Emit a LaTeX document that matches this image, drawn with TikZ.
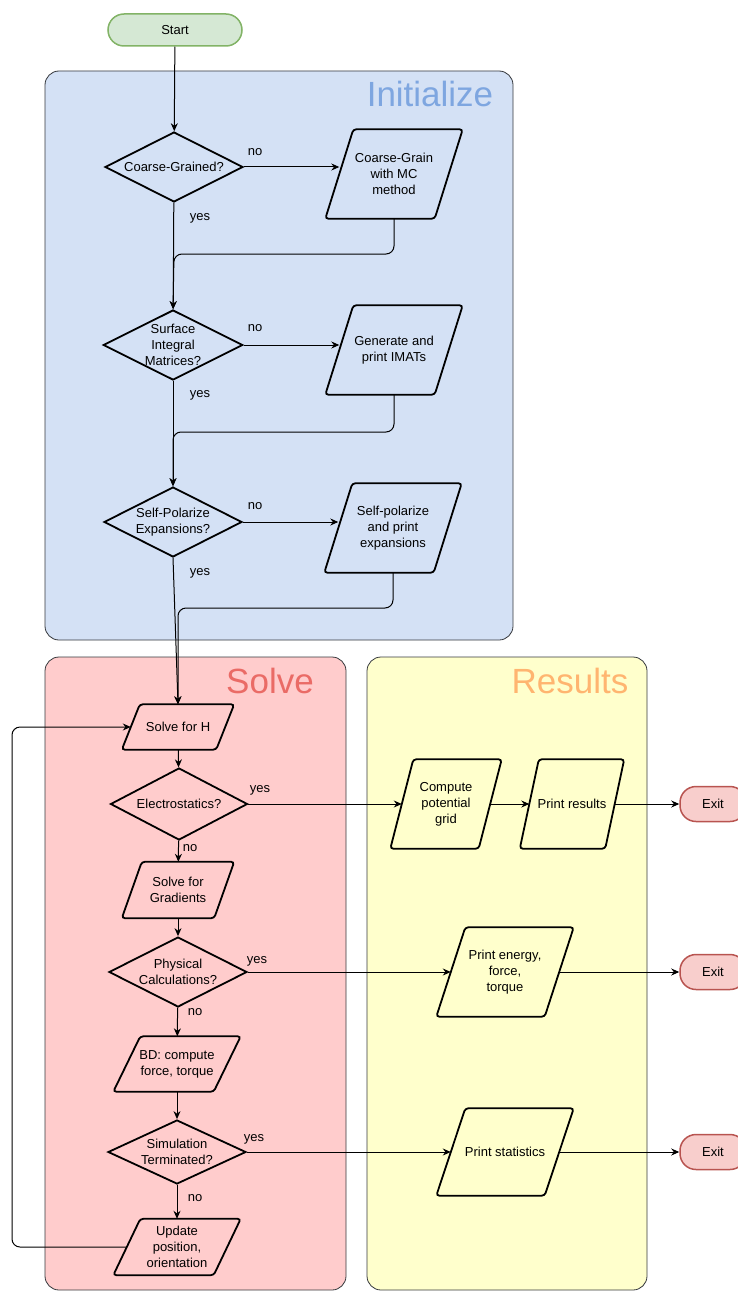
\documentclass[tikz,border=0pt]{standalone}
\usepackage{fontspec}
\setmainfont{Liberation Sans}
\usepackage{xcolor}
\usetikzlibrary{arrows.meta,positioning,calc,shapes.geometric}
\definecolor{initfill}{HTML}{D4E1F5}
\definecolor{inittext}{HTML}{7EA6E0}
\definecolor{solvefill}{HTML}{FFCCCC}
\definecolor{solvetext}{HTML}{EA6B66}
\definecolor{resfill}{HTML}{FFFFCC}
\definecolor{restext}{HTML}{FFB570}
\definecolor{startfill}{HTML}{D5E8D4}
\definecolor{startline}{HTML}{82B366}
\definecolor{exitfill}{HTML}{F8CECC}
\definecolor{exitline}{HTML}{B85450}
\definecolor{lanegray}{HTML}{36393D}
\newcommand{\flowfont}{\fontsize{13}{16}\selectfont}
\newcommand{\lanefont}{\fontsize{35}{40}\selectfont}
\tikzset{
  decision/.style={diamond,draw,line width=1.8pt,inner sep=0pt,aspect=2,
    minimum width=138pt,minimum height=70pt,align=center,font=\flowfont},
  iobox/.style={rectangle,inner sep=0pt,align=center,font=\flowfont,
    append after command={\pgfextra{\draw[line width=1.8pt,rounded corners=3pt]
      ([xshift=#1/2]\tikzlastnode.north west) -- ([xshift=#1/2]\tikzlastnode.north east)
      -- ([xshift=-#1/2]\tikzlastnode.south east) -- ([xshift=-#1/2]\tikzlastnode.south west)
      -- cycle;}}},
  terminal/.style={rectangle,draw,line width=1.5pt,rounded corners=16pt,
    minimum height=34pt,font=\flowfont},
  flow/.style={-{Stealth[length=8pt,width=7pt]},line width=1pt},
  lane/.style={draw=lanegray,line width=.8pt,rounded corners=14pt},
  lanetitle/.style={font=\lanefont,inner sep=0pt},
  lbl/.style={font=\flowfont,inner sep=0pt}
}
\begin{document}
\begin{tikzpicture}[x=1pt,y=-1pt]
  \useasboundingbox (0,0) rectangle (738,1292);
  % lanes
  \draw[lane,fill=initfill] (45,71) rectangle (513,640);
  \draw[lane,fill=solvefill] (45,657) rectangle (346,1290);
  \draw[lane,fill=resfill] (367,657) rectangle (647,1290);
  \node[lanetitle,text=inittext] (tinit) at (430,94) {Initialize};
  \node[lanetitle,text=solvetext] (tsolve) at (270,681) {Solve};
  \node[lanetitle,text=restext] (tres) at (570,681) {Results};

  % initialize
  \node[terminal,fill=startfill,draw=startline,minimum width=134pt,minimum height=32pt] (start) at (175,30) {Start};
  \node[decision] (d1) at (174,167) {Coarse-Grained?};
  \node[iobox=28pt,minimum width=109pt,minimum height=89pt] (p1) at (394,174) {Coarse-Grain\\with MC\\method};
  \node[decision] (d2) at (173,345) {Surface\\Integral\\Matrices?};
  \node[iobox=28pt,minimum width=109pt,minimum height=89pt] (p2) at (394,350) {Generate and\\print IMATs};
  \node[decision] (d3) at (173,522) {Self-Polarize\\Expansions?};
  \node[iobox=28pt,minimum width=109pt,minimum height=89pt] (p3) at (393,528) {Self-polarize\\and print\\expansions};
  \coordinate (j1) at (174,254);
  \coordinate (j2) at (173,432);
  \coordinate (j3) at (178,608);

  % solve
  \node[iobox=18pt,minimum width=94pt,minimum height=45pt] (solveH) at (178,727) {Solve for H};
  \node[decision,minimum width=137pt,minimum height=72pt] (elec) at (179,804) {Electrostatics?};
  \node[iobox=20pt,minimum width=92pt,minimum height=56pt] (grad) at (178,890) {Solve for\\Gradients};
  \node[decision] (phys) at (178,972) {Physical\\Calculations?};
  \node[iobox=27pt,minimum width=100pt,minimum height=55pt] (bd) at (177,1064) {BD: compute\\force, torque};
  \node[decision,minimum height=64pt] (sim) at (177,1152) {Simulation\\Terminated?};
  \node[iobox=27pt,minimum width=100pt,minimum height=56pt] (upd) at (177,1247) {Update\\position,\\orientation};
  \coordinate (loop) at (12,727);

  % results
  \node[iobox=23pt,minimum width=88pt,minimum height=89pt] (comp) at (446,804) {Compute\\potential\\grid};
  \node[iobox=19pt,minimum width=85pt,minimum height=89pt] (prnt) at (572,804) {Print results};
  \node[iobox=29pt,minimum width=108pt,minimum height=89pt] (energy) at (505,972) {Print energy,\\force,\\torque};
  \node[iobox=29pt,minimum width=108pt,minimum height=87pt] (stats) at (505,1152) {Print statistics};
  \node[terminal,fill=exitfill,draw=exitline,minimum width=66pt,minimum height=35pt] (exit1) at (713,804) {Exit};
  \node[terminal,fill=exitfill,draw=exitline,minimum width=66pt,minimum height=35pt] (exit2) at (713,972) {Exit};
  \node[terminal,fill=exitfill,draw=exitline,minimum width=66pt,minimum height=35pt] (exit3) at (713,1152) {Exit};

  % labels
  \node[lbl] (no1) at (255,152) {no};
  \node[lbl] (yes1) at (200,218) {yes};
  \node[lbl] (no2) at (255,328) {no};
  \node[lbl] (yes2) at (200,395) {yes};
  \node[lbl] (no3) at (255,506) {no};
  \node[lbl] (yes3) at (200,573) {yes};
  \node[lbl] (yes4) at (260,790) {yes};
  \node[lbl] (no4) at (190,848) {no};
  \node[lbl] (yes5) at (257,961) {yes};
  \node[lbl] (no5) at (195,1012) {no};
  \node[lbl] (yes6) at (254,1139) {yes};
  \node[lbl] (no6) at (195,1198) {no};

  % connectors
  \draw[flow] (start) -- (d1);
  \draw[flow] (d1.east) -- (d1.east -| p1.west);
  \draw[flow] (d1) -- (d2);
  \draw[flow,rounded corners=8pt] (p1.south) |- (j1) -- (d2.north);
  \draw[flow] (d2.east) -- (d2.east -| p2.west);
  \draw[flow] (d2) -- (d3);
  \draw[flow,rounded corners=8pt] (p2.south) |- (j2) -- (d3.north);
  \draw[flow] (d3.east) -- (d3.east -| p3.west);
  \draw[flow] (d3.south) -- (solveH.north);
  \draw[flow,rounded corners=8pt] (p3.south) |- (j3) -- (solveH.north);
  \draw[flow] (solveH) -- (elec);
  \draw[flow] (elec) -- (grad);
  \draw[flow] (grad) -- (phys);
  \draw[flow] (phys) -- (bd);
  \draw[flow] (bd) -- (sim);
  \draw[flow] (sim) -- (upd);
  \draw[flow,rounded corners=8pt] (upd.west) -| (loop) -- (solveH.west);
  \draw[flow] (elec.east) -- (comp.west);
  \draw[flow] (comp.east) -- (prnt.west);
  \draw[flow] (prnt.east) -- (exit1.west);
  \draw[flow] (phys.east) -- (energy.west);
  \draw[flow] (energy.east) -- (exit2.west);
  \draw[flow] (sim.east) -- (stats.west);
  \draw[flow] (stats.east) -- (exit3.west);
\end{tikzpicture}
\end{document}
